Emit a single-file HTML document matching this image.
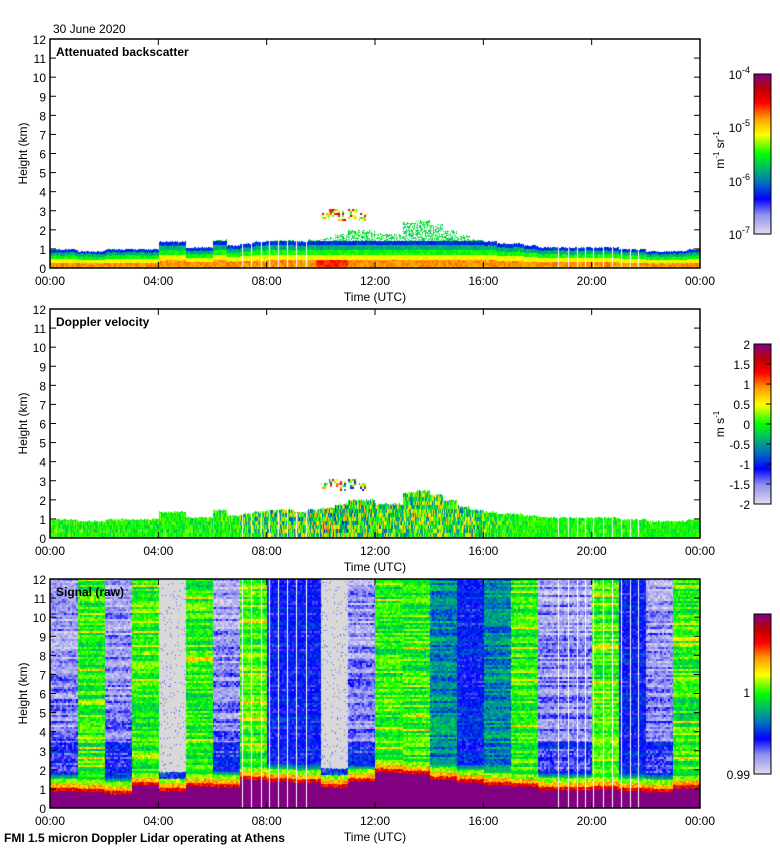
<!DOCTYPE html>
<html><head><meta charset="utf-8">
<style>
body{margin:0;background:#fff;width:780px;height:850px;overflow:hidden;position:relative;font-family:"Liberation Sans",sans-serif;}
canvas{position:absolute;}
svg{position:absolute;left:0;top:0;}
</style></head>
<body>
<canvas id="c0" width="650" height="229" style="left:50px;top:39px"></canvas>
<canvas id="c1" width="650" height="229" style="left:50px;top:309px"></canvas>
<canvas id="c2" width="650" height="229" style="left:50px;top:579px"></canvas>
<svg id="ax" width="780" height="850"></svg>
<script>
// ---- data ----
const bscTop=[1.0,1.0,0.9,0.9,1.0,1.0,1.0,1.0,1.4,1.4,1.1,1.1,1.5,1.2,1.3,1.4,1.5,1.5,1.4,1.5,1.6,1.8,2.0,2.0,1.8,1.8,2.4,2.5,2.3,2.0,1.7,1.5,1.4,1.3,1.3,1.2,1.1,1.1,1.1,1.1,1.1,1.1,1.0,1.0,0.9,0.9,0.9,1.0];
const elevHour=[10.0,10.3,10.6,11.0,11.4];
const elevBot=[2.6,2.7,2.5,2.6,2.5];
const elevTop=[2.9,3.1,3.0,3.1,2.9];
const velAmp=[0.07,0.07,0.07,0.07,0.07,0.07,0.09,0.2,0.22,0.22,0.25,0.22,0.2,0.2,0.18,0.2,0.1,0.06,0.05,0.05,0.05,0.05,0.05,0.05];
const segStart=[0,1,2,3,4,5,6,7,8,10,11,12,13,14,15,16,17,18,20,21,22,23];
const segType=['w','g','w','g','x','g','w','g','b','x','w','g','g','gb','b','gb','g','w','g','b','w','g'];
const purpleTop=[0.9,0.85,0.75,1.2,0.9,1.15,1.1,1.5,1.4,1.35,1.1,1.4,1.9,1.8,1.5,1.35,1.2,1.15,0.95,0.95,1.0,0.9,0.85,1.05];
const gapTimes=[7.1,7.42,7.78,8.1,8.43,8.76,9.1,9.45,18.77,19.12,19.45,19.75,20.06,20.43,20.76,21.08,21.42,21.72];
const timeTicks=['00:00','04:00','08:00','12:00','16:00','20:00','00:00'];
// ---- helpers ----
const W=650,H=229,KM=12;
const stops=[[0,[224,220,236]],[0.12,[144,144,240]],[0.22,[0,0,255]],[0.32,[0,112,192]],[0.42,[0,192,96]],[0.5,[0,255,0]],[0.62,[255,255,0]],[0.72,[255,160,0]],[0.82,[255,0,0]],[0.9,[192,0,0]],[1,[128,0,128]]];
function cmap(v){v=Math.max(0,Math.min(1,v));for(let i=1;i<stops.length;i++){if(v<=stops[i][0]){const a=stops[i-1],b=stops[i],t=(v-a[0])/(b[0]-a[0]);return [0,1,2].map(k=>a[1][k]+(b[1][k]-a[1][k])*t);}}return stops[stops.length-1][1];}
function hash(i,j,s){let h=(i*374761393+j*668265263+s*2147483647)|0;h=(h^(h>>>13))*1274126177|0;h=h^(h>>>16);return ((h>>>0)%100000)/100000;}
function xh(x){return x/W*24;}
function zy(y){return (H-y)/H*KM;}
function put(d,x,y,c){const o=(y*W+x)*4;d[o]=c[0];d[o+1]=c[1];d[o+2]=c[2];d[o+3]=255;}
function gaps(d){gapTimes.forEach(t=>{const x=Math.round(t/24*W);for(let y=0;y<H;y++)put(d,x,y,[255,255,255]);});}
// panel 1
(function(){const ctx=document.getElementById('c0').getContext('2d');const im=ctx.createImageData(W,H),d=im.data;
for(let x=0;x<W;x++){const h=xh(x);const top=bscTop[Math.min(47,Math.floor(h*2))]+(hash(x,1,3)-0.5)*0.08;const dense=Math.min(top,1.45);
for(let y=0;y<H;y++){const z=zy(y);let v=null;
if(z<dense){const f=z/dense;const n=(hash(x>>1,y>>1,5)-0.5)*0.06;
 v=f<0.06?0.55:f<0.3?0.73:f<0.5?0.62:f<0.68?0.5:f<0.85?0.4:0.26;
 if(f>=0.06&&f<0.3&&h>9.8&&h<11)v=0.8; v+=n;}
else if(z<top){if(hash(x,y,7)<0.5)v=0.38+hash(x,y,8)*0.14;}
for(let k=0;k<elevHour.length;k++){if(h>=elevHour[k]&&h<elevHour[k]+0.3&&z>=elevBot[k]&&z<=elevTop[k]&&hash(x>>1,y>>1,9)<0.6)v=0.45+hash(x>>1,y>>1,10)*0.45;}
if(v!==null)put(d,x,y,cmap(v));else put(d,x,y,[255,255,255]);}}
gaps(d);ctx.putImageData(im,0,0);})();
// panel 2
(function(){const ctx=document.getElementById('c1').getContext('2d');const im=ctx.createImageData(W,H),d=im.data;
for(let x=0;x<W;x++){const h=xh(x);const top=bscTop[Math.min(47,Math.floor(h*2))]+(hash(x,2,3)-0.5)*0.1;const amp=velAmp[Math.min(23,Math.floor(h))];
for(let y=0;y<H;y++){const z=zy(y);let v=null;
if(z<top){v=0.5+(hash(x,Math.floor(y/4),11)-0.5)*2*amp+(hash(x>>1,y,12)-0.5)*0.05;}
for(let k=0;k<elevHour.length;k++){if(h>=elevHour[k]&&h<elevHour[k]+0.3&&z>=elevBot[k]&&z<=elevTop[k]&&hash(x>>1,y>>1,13)<0.5)v=0.2+hash(x>>1,y>>1,14)*0.7;}
put(d,x,y,v===null?[255,255,255]:cmap(v));}}
gaps(d);ctx.putImageData(im,0,0);})();
// panel 3
(function(){const ctx=document.getElementById('c2').getContext('2d');const im=ctx.createImageData(W,H),d=im.data;
const mean={w:0.13,g:0.5,b:0.23,gb:0.35,x:0};const sd={w:0.1,g:0.1,b:0.07,gb:0.1,x:0};
for(let x=0;x<W;x++){const h=xh(x);let si=0;for(let i=0;i<segStart.length;i++)if(h>=segStart[i])si=i;const t=segType[si];
const pt=purpleTop[Math.min(23,Math.floor(h))]+(hash(x,3,3)-0.5)*0.06;
for(let y=0;y<H;y++){const z=zy(y),dz=z-pt;let c;
 const rn=(hash(si,y>>1,21)-0.5)*2,cn=(hash(x>>1,y>>1,22)-0.5)*2;
 let sv;
 if(t==='x'){sv=null;}else{let m=mean[t];if(t==='w')m+= (z<3.5?0.08:-(z-3.5)*0.006);if(t==='g'&&hash(si,y>>1,23)<0.12)m+=0.1;sv=m+rn*sd[t]*0.7+cn*sd[t]*0.6;}
 if(dz<0)c=cmap(1);
 else if(dz<0.18)c=cmap(0.84+cn*0.06);
 else if(dz<0.4)c=cmap(0.7+cn*0.06);
 else if(dz<0.65)c=cmap(0.56+cn*0.06);
 else if(t==='x'){c=dz<1.0?cmap(0.25+cn*0.1):(hash(x,y,24)<0.04?cmap(0.15):[216,216,216]);}
 else if(dz<1.0){const b=(dz-0.65)/0.35;c=cmap(0.45*(1-b)+sv*b);}
 else c=cmap(sv);
 put(d,x,y,c);}}
gaps(d);ctx.putImageData(im,0,0);})();
// ---- axes ----
const NS='http://www.w3.org/2000/svg';const ax=document.getElementById('ax');
function el(tag,at,txt){const e=document.createElementNS(NS,tag);for(const k in at)e.setAttribute(k,at[k]);if(txt!==undefined)e.textContent=txt;ax.appendChild(e);return e;}
const tops=[39,309,579];const titles=['Attenuated backscatter','Doppler velocity','Signal (raw)'];
tops.forEach((T,p)=>{
 const r=el('rect',{x:50,y:T,width:W,height:H,fill:'none',stroke:'#000','stroke-width':1.5});
 
 
 for(let k=0;k<=12;k++){const y=T+H-k*H/12;
  el('line',{x1:50,x2:56,y1:y,y2:y,stroke:'#000'});el('line',{x1:694,x2:700,y1:y,y2:y,stroke:'#000'});
  const t=el('text',{x:46,y:y+5,'text-anchor':'end','font-size':12},String(k));
  
  }
 timeTicks.forEach((s,i)=>{const x=50+i*W/6;
  el('line',{x1:x,x2:x,y1:T,y2:T+6,stroke:'#000'});el('line',{x1:x,x2:x,y1:T+H-6,y2:T+H,stroke:'#000'});
  const t=el('text',{x:x,y:T+H+17,'text-anchor':'middle','font-size':12},s);
  
  });
 const xt=el('text',{x:375,y:T+H+33,'text-anchor':'middle','font-size':12},'Time (UTC)');
 
 
 const yt=el('text',{x:27,y:T+H/2,'text-anchor':'middle','font-size':12,transform:`rotate(-90 27 ${T+H/2})`},'Height (km)');
 
 
 const pt=el('text',{x:56,y:T+17,'font-size':12,'font-weight':'bold'},titles[p]);
 
 
 const cbT=T+35;const g=el('linearGradient',{id:'g'+p,x1:0,y1:1,x2:0,y2:0});
 stops.forEach(s=>{const c=cmap(s[0]);const st=document.createElementNS(NS,'stop');st.setAttribute('offset',s[0]);st.setAttribute('stop-color',`rgb(${c.map(Math.round).join(',')})`);g.appendChild(st);});
 const cb=el('rect',{x:754,y:cbT,width:17,height:160,fill:`url(#g${p})`,stroke:'#000'});
 
 
});
function sup(x,y,base,ex){const t=el('text',{x:x,y:y,'text-anchor':'end','font-size':12});const a=document.createElementNS(NS,'tspan');a.textContent=base;t.appendChild(a);const b=document.createElementNS(NS,'tspan');b.setAttribute('dy',-6);b.setAttribute('font-size',9);b.textContent=ex;t.appendChild(b);return t;}
[['-4',74],['-5',127],['-6',181],['-7',234]].forEach(a=>{const t=sup(750,a[1]+5,'10',a[0]);});
['2','1.5','1','0.5','0','-0.5','-1','-1.5','-2'].forEach((s,i)=>{const y=344+i*20;el('line',{x1:766,x2:771,y1:y,y2:y,stroke:'#000'});const t=el('text',{x:750,y:y+5,'text-anchor':'end','font-size':12},s);});
[['1',692],['0.99',774]].forEach(a=>{const t=el('text',{x:750,y:a[1]+5,'text-anchor':'end','font-size':12},a[0]);});
const u1=el('text',{x:724,y:150,'text-anchor':'middle','font-size':12,transform:'rotate(-90 724 150)'},'m');const s1=document.createElementNS(NS,'tspan');s1.setAttribute('dy',-5);s1.setAttribute('font-size',8);s1.textContent='-1';u1.appendChild(s1);const s2=document.createElementNS(NS,'tspan');s2.setAttribute('dy',5);s2.textContent=' sr';u1.appendChild(s2);const s3=document.createElementNS(NS,'tspan');s3.setAttribute('dy',-5);s3.setAttribute('font-size',8);s3.textContent='-1';u1.appendChild(s3);


const u2=el('text',{x:724,y:424,'text-anchor':'middle','font-size':12,transform:'rotate(-90 724 424)'},'m s');const s4=document.createElementNS(NS,'tspan');s4.setAttribute('dy',-5);s4.setAttribute('font-size',8);s4.textContent='-1';u2.appendChild(s4);


const dt=el('text',{x:53,y:33,'font-size':12},'30 June 2020');


const ft=el('text',{x:4,y:842,'font-size':12,'font-weight':'bold'},'FMI 1.5 micron Doppler Lidar operating at Athens');


</script>
</body></html>
